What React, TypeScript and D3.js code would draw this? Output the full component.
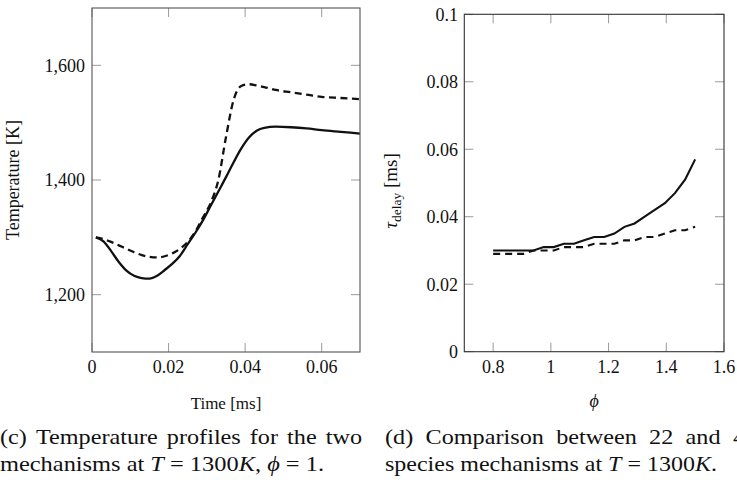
import React, { useLayoutEffect, useRef, useState } from "react";
import * as d3 from "d3";

// ---------- Data ----------
// (c) temperature profiles
const timeMs = [0.001, 0.003, 0.005, 0.007, 0.009, 0.011, 0.013, 0.015, 0.017, 0.019, 0.021, 0.023, 0.025, 0.027, 0.029, 0.031, 0.033, 0.035, 0.037, 0.039, 0.041, 0.043, 0.045, 0.048, 0.052, 0.056, 0.06, 0.065, 0.07];
const tempSolid = [1300, 1293, 1276, 1257, 1242, 1233, 1229, 1228, 1233, 1243, 1254, 1268, 1288, 1308, 1330, 1355, 1380, 1405, 1431, 1455, 1474, 1486, 1491, 1493, 1492, 1490, 1487, 1484, 1481];
const tempDashed = [1300, 1297, 1292, 1286, 1280, 1274, 1269, 1266, 1265, 1267, 1272, 1280, 1292, 1310, 1335, 1360, 1400, 1475, 1540, 1564, 1567, 1565, 1562, 1557, 1553, 1549, 1545, 1543, 1541];
const leftXTicks = [0, 0.02, 0.04, 0.06];
const leftYTicks = [1200, 1400, 1600];

// (d) ignition delay vs equivalence ratio
const phiValues = [0.8, 0.835, 0.87, 0.905, 0.94, 0.975, 1.01, 1.045, 1.08, 1.115, 1.15, 1.185, 1.22, 1.255, 1.29, 1.325, 1.36, 1.395, 1.43, 1.465, 1.5];
const delaySolid = [0.03, 0.03, 0.03, 0.03, 0.03, 0.031, 0.031, 0.032, 0.032, 0.033, 0.034, 0.034, 0.035, 0.037, 0.038, 0.04, 0.042, 0.044, 0.047, 0.051, 0.057];
const delayDashed = [0.029, 0.029, 0.029, 0.029, 0.03, 0.03, 0.03, 0.031, 0.031, 0.031, 0.032, 0.032, 0.032, 0.033, 0.033, 0.034, 0.034, 0.035, 0.036, 0.036, 0.037];
const rightXTicks = [0.8, 1, 1.2, 1.4, 1.6];
const rightYTicks = [0, 0.02, 0.04, 0.06, 0.08, 0.1];

const captionC1 = ["(c)", "Temperature", "profiles", "for", "the", "two"];
const captionD1 = ["(d)", "Comparison", "between", "22", "and", "4"];

// ---------- Styles ----------
const W = 737;
const H = 480;
const FONT = "'Liberation Serif', 'Times New Roman', Times, serif";
const TICK_FS = 18;
const CAP_FS = 22;
const CAP_STRETCH = 1.1;
const TICK_LEN = 9;
const TICK_COLOR = "#9a9a9a";

function Justified({ words, x0, x1, y, size }: { words: string[]; x0: number; x1: number; y: number; size: number }) {
  const refs = useRef<(SVGTextElement | null)[]>([]);
  const [layout, setLayout] = useState<{ xs: number[]; ws: number[] } | null>(null);
  useLayoutEffect(() => {
    const widths = refs.current.map((r) => (r ? r.getComputedTextLength() * CAP_STRETCH : 0));
    const total = widths.reduce((a, b) => a + b, 0);
    const gap = (x1 - x0 - total) / (words.length - 1);
    let x = x0;
    const out: number[] = [];
    widths.forEach((w) => {
      out.push(x);
      x += w + gap;
    });
    setLayout({ xs: out, ws: widths });
  }, []);
  return (
    <g>
      {words.map((w, i) => (
        <text
          key={i}
          ref={(el) => {
            refs.current[i] = el;
          }}
          x={layout ? layout.xs[i] : x0}
          y={y}
          fontSize={size}
          fontFamily={FONT}
          fill="#111"
          {...(layout ? { textLength: layout.ws[i], lengthAdjust: "spacingAndGlyphs" } : {})}
        >
          {w}
        </text>
      ))}
    </g>
  );
}

function LeftChart() {
  const x = d3.scaleLinear().domain([0, 0.07]).range([92, 360]);
  const y = d3.scaleLinear().domain([1100, 1700]).range([352, 8]);
  const line = d3
    .line<number>()
    .x((_, i) => x(timeMs[i]))
    .y((d) => y(d))
    .curve(d3.curveMonotoneX);
  const [x0, x1] = x.range();
  const [y0, y1] = y.range();
  return (
    <g>
      {leftXTicks.map((t) => (
        <g key={"xt" + t}>
          <line x1={x(t)} x2={x(t)} y1={y0} y2={y0 - TICK_LEN} stroke={TICK_COLOR} strokeWidth={1} />
          <line x1={x(t)} x2={x(t)} y1={y1} y2={y1 + TICK_LEN} stroke={TICK_COLOR} strokeWidth={1} />
          <text x={x(t)} y={y0 + 21} textAnchor="middle" fontSize={TICK_FS} fontFamily={FONT} fill="#111">
            {String(t)}
          </text>
        </g>
      ))}
      {leftYTicks.map((t) => (
        <g key={"yt" + t}>
          <line x1={x0} x2={x0 + TICK_LEN} y1={y(t)} y2={y(t)} stroke={TICK_COLOR} strokeWidth={1} />
          <line x1={x1} x2={x1 - TICK_LEN} y1={y(t)} y2={y(t)} stroke={TICK_COLOR} strokeWidth={1} />
          <text x={85} y={y(t)} dy="0.35em" textAnchor="end" fontSize={TICK_FS} fontFamily={FONT} fill="#111">
            {d3.format(",")(t)}
          </text>
        </g>
      ))}
      <path d={line(tempDashed) || ""} fill="none" stroke="#111" strokeWidth={2.3} strokeDasharray="7,4.5" />
      <path d={line(tempSolid) || ""} fill="none" stroke="#111" strokeWidth={2.3} />
      <rect x={x0} y={y1} width={x1 - x0} height={y0 - y1} fill="none" stroke="#555" strokeWidth={1.1} />
      <text x={(x0 + x1) / 2} y={409} textAnchor="middle" fontSize={17} fontFamily={FONT} fill="#111">
        Time [ms]
      </text>
      <text transform={`translate(19,${(y0 + y1) / 2}) rotate(-90)`} textAnchor="middle" fontSize={18} fontFamily={FONT} fill="#111">
        Temperature [K]
      </text>
    </g>
  );
}

function RightChart() {
  const x = d3.scaleLinear().domain([0.7, 1.6]).range([464.3, 724]);
  const y = d3.scaleLinear().domain([0, 0.1]).range([351.7, 14.3]);
  const line = d3
    .line<number>()
    .x((_, i) => x(phiValues[i]))
    .y((d) => y(d));
  const [x0, x1] = x.range();
  const [y0, y1] = y.range();
  return (
    <g>
      {rightXTicks.map((t) => (
        <g key={"xt" + t}>
          <line x1={x(t)} x2={x(t)} y1={y0} y2={y0 - TICK_LEN} stroke={TICK_COLOR} strokeWidth={1} />
          <line x1={x(t)} x2={x(t)} y1={y1} y2={y1 + TICK_LEN} stroke={TICK_COLOR} strokeWidth={1} />
          <text x={x(t)} y={y0 + 21} textAnchor="middle" fontSize={TICK_FS} fontFamily={FONT} fill="#111">
            {String(t)}
          </text>
        </g>
      ))}
      {rightYTicks.map((t) => (
        <g key={"yt" + t}>
          <line x1={x0} x2={x0 + TICK_LEN} y1={y(t)} y2={y(t)} stroke={TICK_COLOR} strokeWidth={1} />
          <line x1={x1} x2={x1 - TICK_LEN} y1={y(t)} y2={y(t)} stroke={TICK_COLOR} strokeWidth={1} />
          <text x={458} y={y(t)} dy="0.35em" textAnchor="end" fontSize={TICK_FS} fontFamily={FONT} fill="#111">
            {String(t)}
          </text>
        </g>
      ))}
      <path d={line(delayDashed) || ""} fill="none" stroke="#111" strokeWidth={2.1} strokeDasharray="7,5" />
      <path d={line(delaySolid) || ""} fill="none" stroke="#111" strokeWidth={2.1} />
      <rect x={x0} y={y1} width={x1 - x0} height={y0 - y1} fill="none" stroke="#333" strokeWidth={1.1} />
      <text x={(x0 + x1) / 2} y={407} textAnchor="middle" fontSize={18} fontFamily={FONT} fontStyle="italic" fill="#111">
        ϕ
      </text>
      <text transform={`translate(397,191) rotate(-90)`} textAnchor="middle" fontSize={19} fontFamily={FONT} fill="#111">
        <tspan fontStyle="italic">τ</tspan>
        <tspan fontSize={13.5} dy={4}>delay</tspan>
        <tspan dy={-4}> [ms]</tspan>
      </text>
    </g>
  );
}

export default function App() {
  return (
    <svg width={W} height={H} viewBox={`0 0 ${W} ${H}`} style={{ display: "block", position: "absolute", left: 0, top: 0, background: "#fff" }}>
      <rect x={0} y={0} width={W} height={H} fill="#fff" />
      <LeftChart />
      <RightChart />
      <Justified words={captionC1} x0={0} x1={362} y={444} size={CAP_FS} />
      <text x={0} y={471} fontSize={CAP_FS} fontFamily={FONT} fill="#111" textLength={324} lengthAdjust="spacingAndGlyphs">
        mechanisms at <tspan fontStyle="italic">T</tspan> = 1300<tspan fontStyle="italic">K</tspan>, <tspan fontStyle="italic">ϕ</tspan> = 1.
      </text>
      <Justified words={captionD1} x0={385} x1={745} y={444} size={CAP_FS} />
      <text x={385} y={471} fontSize={CAP_FS} fontFamily={FONT} fill="#111" textLength={332} lengthAdjust="spacingAndGlyphs">
        species mechanisms at <tspan fontStyle="italic">T</tspan> = 1300<tspan fontStyle="italic">K</tspan>.
      </text>
    </svg>
  );
}
